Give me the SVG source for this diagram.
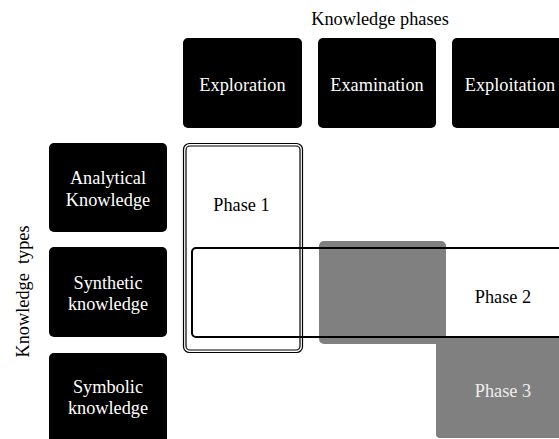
<svg xmlns="http://www.w3.org/2000/svg" width="559" height="439" viewBox="0 0 559 439">
  <style>
    text { font-family: Liberation Serif, serif; font-size: 18.3px; text-anchor: middle; }
    .dark { fill: #000000; }
    .gray { fill: #808080; }
    .lbl { fill: #ffffff; }
    .ink { fill: #000000; }
    .frame { fill: none; stroke: #000000; }
  </style>
  <rect width="559" height="439" fill="#ffffff"/>

  <!-- axis titles -->
  <text class="ink" x="380" y="25">Knowledge phases</text>
  <text class="ink" x="0" y="0" transform="translate(29 291.5) rotate(-90)" xml:space="preserve">Knowledge  types</text>

  <!-- phase columns -->
  <g id="exploration">
    <rect class="dark" x="183" y="38" width="119" height="90" rx="5"/>
    <text class="lbl" x="242.5" y="91">Exploration</text>
  </g>
  <g id="examination">
    <rect class="dark" x="318" y="38" width="118" height="90" rx="5"/>
    <text class="lbl" x="377" y="91">Examination</text>
  </g>
  <g id="exploitation">
    <rect class="dark" x="452" y="38" width="118" height="90" rx="5"/>
    <text class="lbl" x="510" y="91">Exploitation</text>
  </g>

  <!-- knowledge type rows -->
  <g id="analytical">
    <rect class="dark" x="49" y="143" width="118" height="89" rx="5"/>
    <text class="lbl" x="108" y="183.5">Analytical</text>
    <text class="lbl" x="108" y="206">Knowledge</text>
  </g>
  <g id="synthetic">
    <rect class="dark" x="49" y="247" width="118" height="90" rx="5"/>
    <text class="lbl" x="108" y="289">Synthetic</text>
    <text class="lbl" x="108" y="310">knowledge</text>
  </g>
  <g id="symbolic">
    <rect class="dark" x="49" y="353" width="118" height="92" rx="5"/>
    <text class="lbl" x="108" y="392.5">Symbolic</text>
    <text class="lbl" x="108" y="414">knowledge</text>
  </g>

  <!-- phase regions -->
  <g id="phase3">
    <rect class="gray" x="436" y="336" width="130" height="102" rx="4"/>
    <text fill="#eeeeee" x="503" y="397">Phase 3</text>
  </g>
  <g id="examination-synthetic">
    <rect class="gray" x="319" y="241" width="127" height="103" rx="5"/>
  </g>
  <g id="phase1">
    <rect class="frame" x="183.5" y="143.5" width="119" height="209" rx="6" stroke-width="1.2"/>
    <rect class="frame" x="186" y="146" width="114" height="204" rx="4" stroke-width="1.2"/>
    <text class="ink" x="241.5" y="211">Phase 1</text>
  </g>
  <g id="phase2">
    <rect class="frame" x="192" y="248" width="380" height="89" rx="4" stroke-width="2"/>
    <text class="ink" x="503" y="303">Phase 2</text>
  </g>
</svg>
